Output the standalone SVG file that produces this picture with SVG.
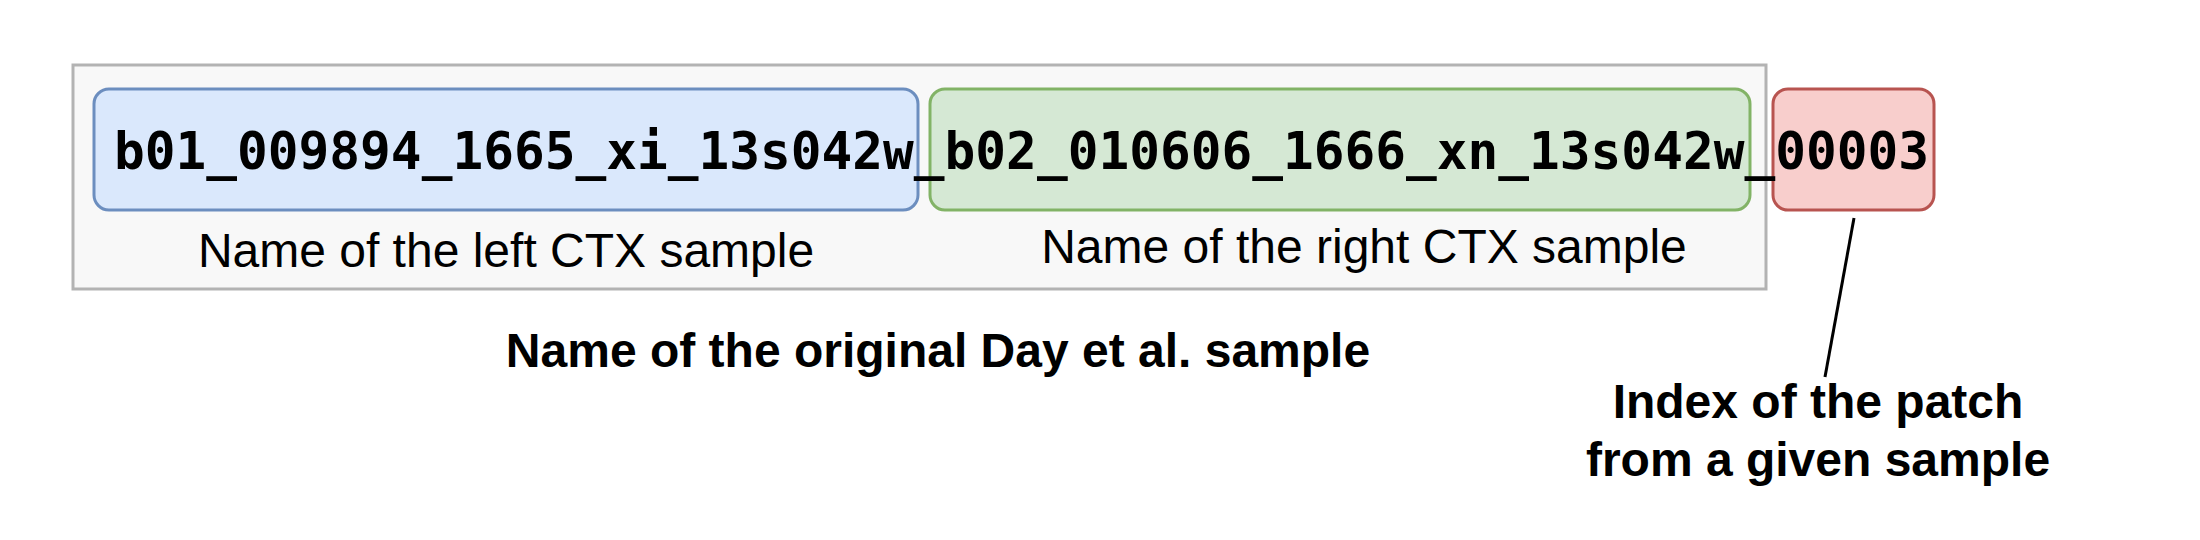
<svg xmlns="http://www.w3.org/2000/svg" width="2200" height="540" viewBox="0 0 2200 540">
<style>
.box{stroke-width:3}
.mono{font-family:"DejaVu Sans Mono","Liberation Mono",monospace;font-weight:bold;font-size:52px;fill:#000}
.lbl{font-family:"Liberation Sans",Arial,sans-serif;font-size:48px;fill:#000;text-anchor:middle}
.b{font-weight:bold}
</style>
<rect width="2200" height="540" fill="#ffffff"/>
<g id="outer">
<rect x="73" y="65" width="1693" height="224" fill="#f8f8f8" stroke="#b3b3b3" stroke-width="3"/>
</g>
<g id="left">
<rect class="box" x="94" y="89" width="824" height="121" rx="15" fill="#dae8fc" stroke="#6c8ebf"/>
<text class="lbl" x="506" y="267">Name of the left CTX sample</text>
</g>
<g id="right">
<rect class="box" x="930" y="89" width="820" height="121" rx="15" fill="#d5e8d4" stroke="#82b366"/>
<text class="lbl" x="1364" y="263">Name of the right CTX sample</text>
</g>
<g id="index">
<rect class="box" x="1773" y="89" width="161" height="121" rx="15" fill="#f8cecc" stroke="#b85450"/>
</g>
<g id="name">
<text class="mono" x="114" y="169" textLength="1815" lengthAdjust="spacingAndGlyphs">b01_009894_1665_xi_13s042w_b02_010606_1666_xn_13s042w_00003</text>
</g>
<g id="original">
<text class="lbl b" x="938" y="367">Name of the original Day et al. sample</text>
</g>
<g id="patch">
<text class="lbl b" x="1818" y="418">Index of the patch</text>
<text class="lbl b" x="1818" y="476">from a given sample</text>
</g>
<g id="connectors">
<line x1="1854" y1="218" x2="1825" y2="377" stroke="#000" stroke-width="3"/>
</g>
</svg>
